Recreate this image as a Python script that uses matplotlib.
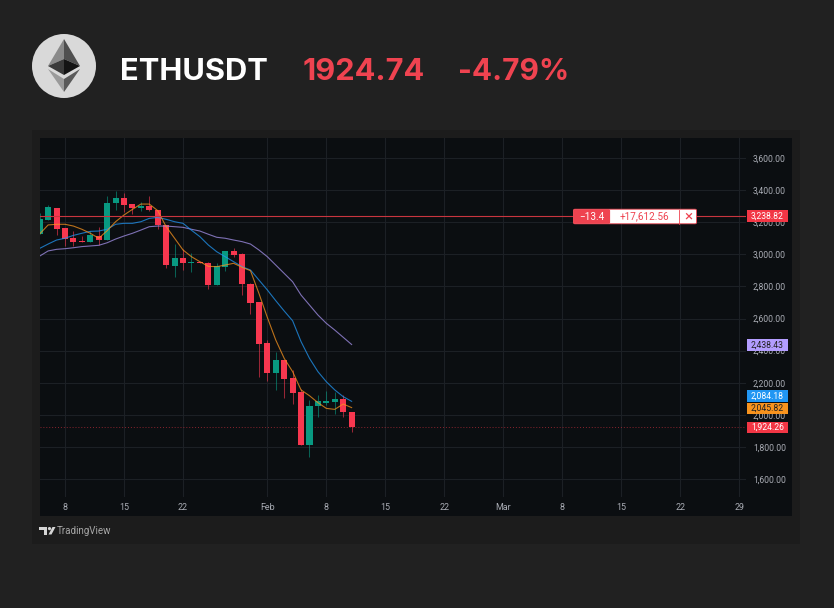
#!/usr/bin/env python3
import matplotlib
matplotlib.use('Agg')
import matplotlib.pyplot as plt
from matplotlib.patches import Circle, Polygon, Rectangle, FancyBboxPatch

plt.rcParams['font.family'] = ['Roboto', 'DejaVu Sans']

W, H = 834, 608

# days counted from 8 Jan
days = list(range(-3, 35))
opens = [3126, 3214, 3291, 3164, 3102, 3083, 3079, 3116, 3089, 3318, 3351, 3315, 3288, 3303,
         3278, 3183, 2929, 2977, 2948, 2952, 2946, 2811, 2923, 3021, 3002, 2815, 2703, 2447,
         2260, 2341, 2227, 2142, 1814, 2055, 2076, 2080, 2098, 2017]
highs = [3260, 3307, 3291, 3164, 3145, 3114, 3145, 3168, 3363, 3396, 3384, 3315, 3324, 3363,
         3278, 3183, 3064, 3033, 3006, 2952, 2954, 2944, 3021, 3039, 3008, 2823, 2703, 2466,
         2391, 2341, 2279, 2163, 2092, 2121, 2146, 2142, 2121, 2017]
lows = [3126, 3214, 3120, 3052, 3052, 3077, 3075, 3060, 3089, 3276, 3266, 3251, 3272, 3272,
        3158, 2915, 2861, 2902, 2892, 2944, 2784, 2809, 2898, 2981, 2748, 2630, 2236, 2213,
        2154, 2107, 2069, 1812, 1739, 1988, 2063, 2005, 1986, 1895]
closes = [3218, 3293, 3160, 3097, 3079, 3077, 3120, 3089, 3320, 3351, 3307, 3288, 3303, 3276,
          3183, 2931, 2977, 2946, 2952, 2944, 2811, 2927, 3021, 2998, 2813, 2699, 2439, 2260,
          2341, 2223, 2136, 1814, 2055, 2086, 2084, 2098, 2015, 1924]

ma_fast = [3127, 3183, 3187, 3187, 3176, 3156, 3131, 3100, 3147, 3203, 3245, 3280, 3313, 3313,
           3272, 3172, 3100, 3027, 2985, 2954, 2925, 2923, 2933, 2944, 2919, 2898, 2757, 2607,
           2466, 2352, 2269, 2155, 2119, 2076, 2040, 2034, 2067, 2045]
ma_mid = [3037, 3064, 3089, 3100, 3118, 3131, 3143, 3145, 3156, 3187, 3193, 3193, 3203, 3224,
          3230, 3218, 3203, 3193, 3150, 3110, 3058, 3016, 2985, 2954, 2923, 2902, 2840, 2778,
          2711, 2647, 2586, 2456, 2352, 2269, 2206, 2155, 2113, 2084]
ma_slow = [2989, 3021, 3031, 3035, 3041, 3048, 3052, 3056, 3072, 3095, 3114, 3131, 3151, 3172,
           3176, 3176, 3172, 3168, 3156, 3145, 3125, 3106, 3100, 3089, 3079, 3064, 3027, 2985,
           2933, 2881, 2829, 2746, 2684, 2622, 2570, 2528, 2483, 2438]

price_ticks = [1600, 1800, 2000, 2200, 2400, 2600, 2800, 3000, 3200, 3400, 3600]
date_ticks = [0, 7, 14, 24, 31, 38, 45, 52, 59, 66, 73, 80]
date_labels = ['8', '15', '22', 'Feb', '8', '15', '22', 'Mar', '8', '15', '22', '29']

last_price = 1924.26
position_price = 3238.82

UP = '#089981'
DOWN = '#f7374f'
HEAD_RED = '#ef4350'


def axes_px(left, top, right, bottom):
    return [left / W, 1 - bottom / H, (right - left) / W, (bottom - top) / H]


fig = plt.figure(figsize=(W / 100, H / 100), dpi=100, facecolor='#212121')

# fondo y tarjeta, en pixeles
bg = fig.add_axes([0, 0, 1, 1], zorder=0)
bg.set_xlim(0, W)
bg.set_ylim(H, 0)
bg.axis('off')
bg.add_patch(Rectangle((32, 130), 768, 414, fc='#1c1c1c', ec='none'))
bg.add_patch(Rectangle((40, 138), 752, 378, fc='#0b0e11', ec='none'))

# logo de ethereum
bg.add_patch(Circle((64, 66), 32, fc='#d9d9d9', ec='none'))
bg.add_patch(Polygon([(64, 39), (48, 66), (64, 59)], fc='#8a8a8a', ec='none'))
bg.add_patch(Polygon([(64, 39), (80, 66), (64, 59)], fc='#4f4f4f', ec='none'))
bg.add_patch(Polygon([(48, 66), (64, 59), (64, 75)], fc='#3a3a3a', ec='none'))
bg.add_patch(Polygon([(80, 66), (64, 59), (64, 75)], fc='#141414', ec='none'))
bg.add_patch(Polygon([(48, 69), (64, 92), (64, 79)], fc='#9a9a9a', ec='none'))
bg.add_patch(Polygon([(80, 69), (64, 92), (64, 79)], fc='#5a5a5a', ec='none'))

bg.text(120, 80, 'ETHUSDT', color='#ffffff', fontsize=22.2, fontweight='bold',
        family='Inter', va='baseline', ha='left')
bg.text(303, 80, '1924.74', color=HEAD_RED, fontsize=22.2, fontweight='bold',
        family='Inter', va='baseline', ha='left')
bg.text(458, 80, '-4.79%', color=HEAD_RED, fontsize=21.5, fontweight='bold',
        family='Inter', va='baseline', ha='left')

# marca de tradingview
bg.add_patch(Polygon([(39, 527), (47.5, 527), (47.5, 534.5), (44, 534.5), (44, 530), (39, 530)],
                     fc='#d5d5d5', ec='none'))
bg.add_patch(Circle((49.5, 528.6), 1.6, fc='#d5d5d5', ec='none'))
bg.add_patch(Polygon([(48.5, 534.5), (52.5, 527), (55.5, 527), (51.5, 534.5)], fc='#d5d5d5', ec='none'))
bg.text(57, 531, 'TradingView', color='#a8a8a8', fontsize=7.0, va='center', ha='left')

# grafico principal
ax = fig.add_axes(axes_px(40, 138, 746, 497), zorder=1)
ax.set_facecolor('#0b0e11')
ax.set_xlim(-2.966, 80.78)
ax.set_ylim(1488, 3724.6)
for side in ax.spines.values():
    side.set_visible(False)

ax.set_xticks(date_ticks)
ax.set_xticklabels(date_labels)
ax.set_yticks(price_ticks)
ax.set_yticklabels([f'{p:,.2f}' for p in price_ticks])
ax.yaxis.tick_right()
ax.tick_params(axis='x', length=0, pad=4, labelsize=6.4, labelcolor='#a9acb4')
ax.tick_params(axis='y', length=0, pad=5, labelsize=6.2, labelcolor='#a9acb4')
ax.grid(True, color='#1c2025', linewidth=0.8)
ax.set_axisbelow(True)

for d, o, hi, lo, c in zip(days, opens, highs, lows, closes):
    color = UP if c >= o else DOWN
    ax.vlines(d, lo, hi, color=color, linewidth=0.75, alpha=0.6, zorder=2)
    ax.bar(d, abs(c - o), bottom=min(o, c), width=0.72, color=color, zorder=3)

ax.plot(days, ma_slow, color='#9a89dd', linewidth=0.8, alpha=0.8, zorder=4)
ax.plot(days, ma_mid, color='#2196f3', linewidth=0.8, alpha=0.75, zorder=4)
ax.plot(days, ma_fast, color='#f7931e', linewidth=0.8, alpha=0.75, zorder=4)

ax.axhline(position_price, color='#c9353f', linewidth=0.8, zorder=5)
ax.axhline(last_price, color='#f23645', linewidth=0.7, linestyle=(0, (1, 2)), alpha=0.55, zorder=1.5)

# etiquetas y orden abierta encima de todo
top = fig.add_axes([0, 0, 1, 1], zorder=2)
top.set_xlim(0, W)
top.set_ylim(H, 0)
top.axis('off')
top.patch.set_alpha(0)


def flag(y, text, face, ink):
    top.add_patch(Rectangle((747, y - 5.7), 41, 11.4, fc=face, ec='none'))
    top.text(767.5, y, text, color=ink, fontsize=6.2, ha='center', va='center')


flag(216, f'{position_price:,.2f}', '#f23645', '#ffffff')
flag(345, '2,438.43', '#b39dff', '#222222')
flag(396, '2,084.18', '#2196f3', '#ffffff')
flag(408.5, '2,045.82', '#f7931e', '#222222')
flag(427.5, f'{last_price:,.2f}', '#f23645', '#ffffff')

top.add_patch(FancyBboxPatch((574, 209.8), 122, 13.4, boxstyle='round,pad=0.6,rounding_size=1.5',
                             fc='#ffffff', ec='#ef4350', linewidth=0.6))
top.add_patch(FancyBboxPatch((574, 209.8), 35.5, 13.4, boxstyle='round,pad=0.6,rounding_size=1.5',
                             fc='#ef4350', ec='none'))
top.plot([679, 679], [209.5, 223.5], color='#ef4350', linewidth=0.6)
top.text(591.5, 216.5, '−13.4', color='#ffffff', fontsize=7.2, ha='center', va='center')
top.text(644, 216.5, '+17,612.56', color='#ef4350', fontsize=7.2, ha='center', va='center')
top.text(688, 216.5, '×', color='#ef4350', fontsize=11, ha='center', va='center')

fig.savefig('out.png', dpi=100, facecolor=fig.get_facecolor())
